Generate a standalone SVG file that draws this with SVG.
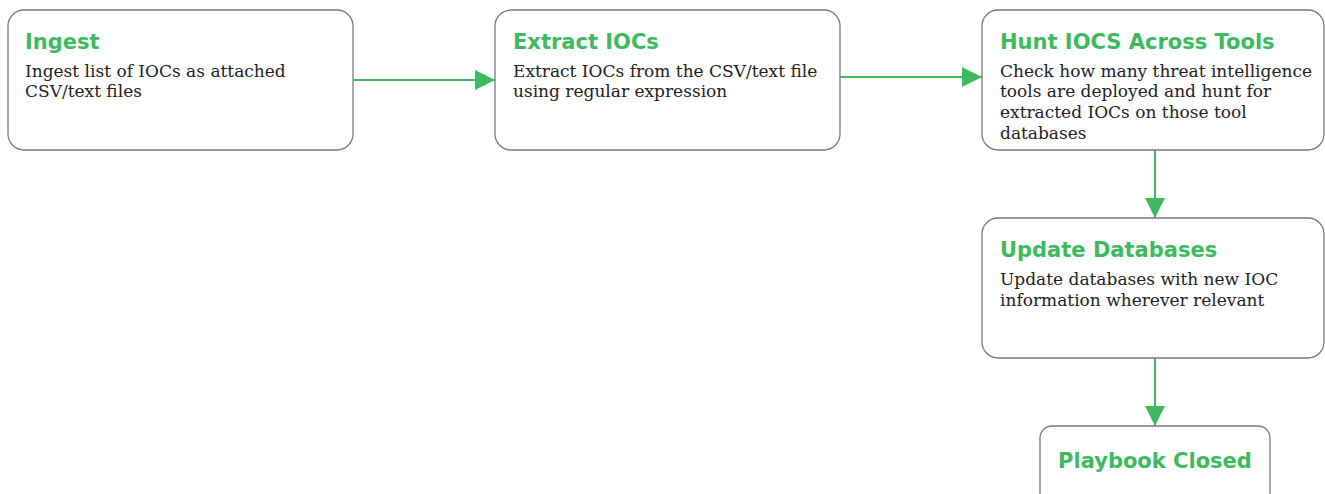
<svg xmlns="http://www.w3.org/2000/svg" width="1325" height="494" viewBox="0 0 1325 494">
<defs>
<style>
.box{fill:#fff;stroke:#7a7a7a;stroke-width:1.3}
.title{font-family:"DejaVu Sans","Noto Sans",sans-serif;font-weight:700;font-size:21px;fill:#3dba5e}
.body{font-family:"DejaVu Serif","Liberation Serif",serif;font-size:17px;fill:#222}
.conn{stroke:#3dba5e;stroke-width:2;fill:none}
</style>
<marker id="arrBig" viewBox="0 0 20 20" refX="20" refY="10" markerWidth="20" markerHeight="20" markerUnits="userSpaceOnUse" orient="auto">
<path d="M0,0 L20,10 L0,20 Z" fill="#3dba5e"/>
</marker>
</defs>
<g id="connectors">
<path class="conn" d="M353,80 L495,80" marker-end="url(#arrBig)"/>
<path class="conn" d="M840,77 L982,77" marker-end="url(#arrBig)"/>
<path class="conn" d="M1155,150 L1155,218" marker-end="url(#arrBig)"/>
<path class="conn" d="M1155,358 L1155,426" marker-end="url(#arrBig)"/>
</g>
<g id="ingest">
<rect class="box" x="8" y="10" width="345" height="140" rx="16"/>
<text class="title" x="25" y="49">Ingest</text>
<text class="body" x="25" y="77">Ingest list of IOCs as attached</text>
<text class="body" x="25" y="97">CSV/text files</text>
</g>
<g id="extract">
<rect class="box" x="495" y="10" width="345" height="140" rx="16"/>
<text class="title" x="513" y="49">Extract IOCs</text>
<text class="body" x="513" y="77">Extract IOCs from the CSV/text file</text>
<text class="body" x="513" y="97">using regular expression</text>
</g>
<g id="hunt">
<rect class="box" x="982" y="10" width="342" height="140" rx="16"/>
<text class="title" x="1000" y="49">Hunt IOCS Across Tools</text>
<text class="body" x="1000" y="77">Check how many threat intelligence</text>
<text class="body" x="1000" y="97">tools are deployed and hunt for</text>
<text class="body" x="1000" y="118">extracted IOCs on those tool</text>
<text class="body" x="1000" y="139">databases</text>
</g>
<g id="update">
<rect class="box" x="982" y="218" width="342" height="140" rx="16"/>
<text class="title" x="1000" y="257">Update Databases</text>
<text class="body" x="1000" y="285">Update databases with new IOC</text>
<text class="body" x="1000" y="306">information wherever relevant</text>
</g>
<g id="closed">
<rect class="box" x="1040" y="426" width="230" height="90" rx="12"/>
<text class="title" x="1155" y="468" text-anchor="middle">Playbook Closed</text>
</g>
</svg>
